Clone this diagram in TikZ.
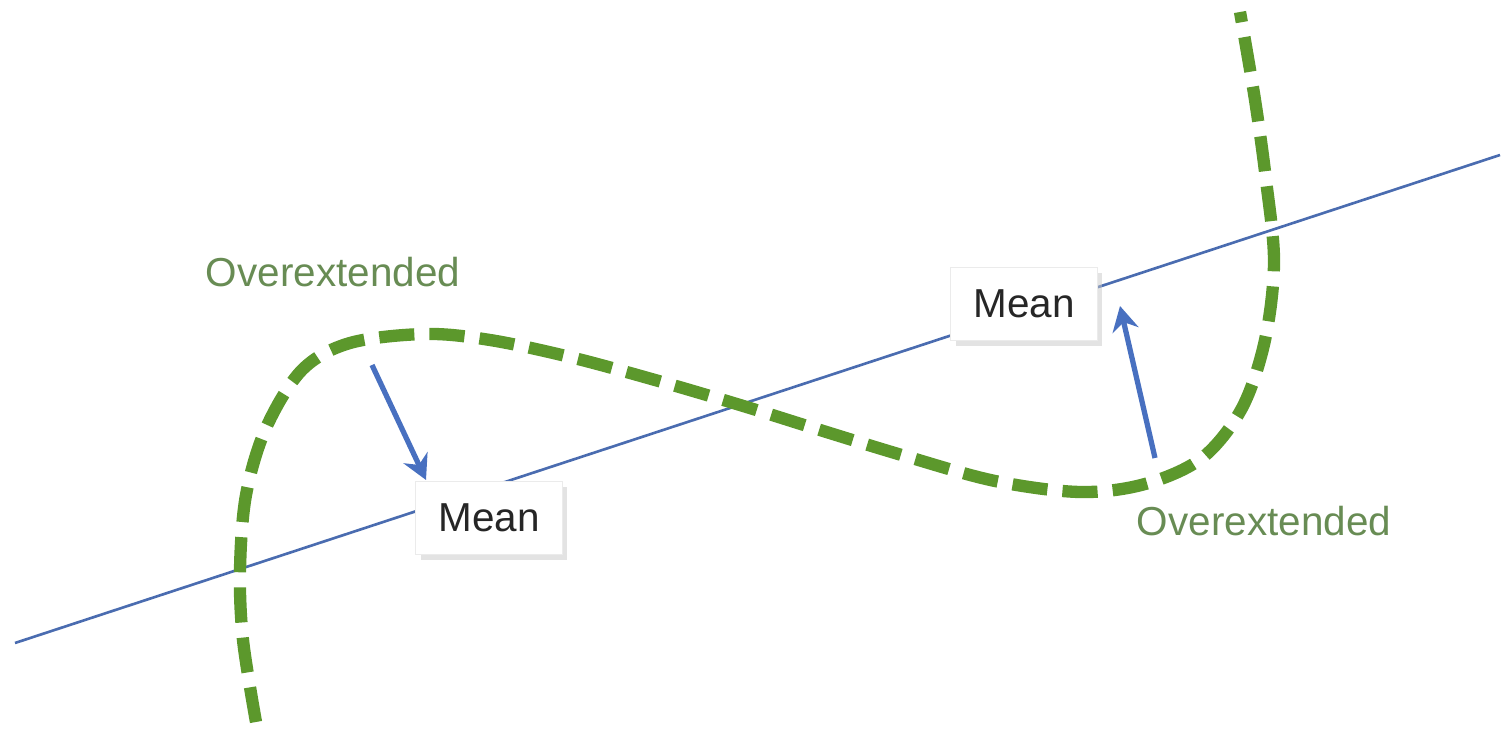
\documentclass[tikz,border=0pt]{standalone}
\usepackage{fontspec}
\setmainfont{Liberation Sans}
\usetikzlibrary{shadows,arrows.meta}
\definecolor{curvegreen}{RGB}{92,152,44}
\definecolor{textgreen}{RGB}{104,140,84}
\definecolor{lineblue}{RGB}{74,108,176}
\definecolor{arrowblue}{RGB}{72,112,192}
\tikzset{
  greendash/.style={draw=curvegreen, line width=3.5pt, dash pattern=on 10pt off 4.3pt},
  trendline/.style={draw=lineblue, line width=0.75pt},
  arr/.style={draw=arrowblue, line width=1.5pt, -{Stealth[length=7pt,width=7.5pt]}},
  meanbox/.style={fill=white, draw=black!8, line width=0.3pt, minimum width=1.46cm, minimum height=0.73cm, inner sep=0pt,
    font=\fontsize{11.5}{13}\selectfont, text=black!85,
    drop shadow={shadow xshift=1.3pt, shadow yshift=-1.5pt, fill=black!22, draw=none}},
  overlabel/.style={font=\fontsize{11.5}{13}\selectfont, text=textgreen, inner sep=0pt}
}
\begin{document}
\begin{tikzpicture}[x=0.01cm, y=-0.01cm]
\useasboundingbox (0,0) rectangle (1503,734);
% trend line
\coordinate (l1) at (15,643);
\coordinate (l2) at (1500,155);
\draw[trendline] (l1) -- (l2);
% dashed curve
\draw[greendash] plot[smooth, tension=0.55] coordinates {
 (256,722) (243,640) (240,570) (246,495) (266,428) (302,370) (350,343) (425,334)
 (490,340) (570,357) (655,380) (740,405) (820,430) (905,456) (995,481) (1080,492)
 (1145,484) (1202,458) (1242,408) (1265,340) (1274,262) (1266,180) (1255,100) (1240,12)};
% boxes
\node[meanbox] (m1) at (489,518) {Mean};
\node[meanbox] (m2) at (1024,304) {Mean};
% labels
\node[overlabel] (o1) at (333,272) {Overextended};
\node[overlabel] (o2) at (1264,521) {Overextended};
% arrows
\coordinate (a1s) at (372,365);
\coordinate (a1e) at (426,480);
\coordinate (a2s) at (1155,458);
\coordinate (a2e) at (1120,306);
\draw[arr] (a1s) -- (a1e);
\draw[arr] (a2s) -- (a2e);
\end{tikzpicture}
\end{document}
